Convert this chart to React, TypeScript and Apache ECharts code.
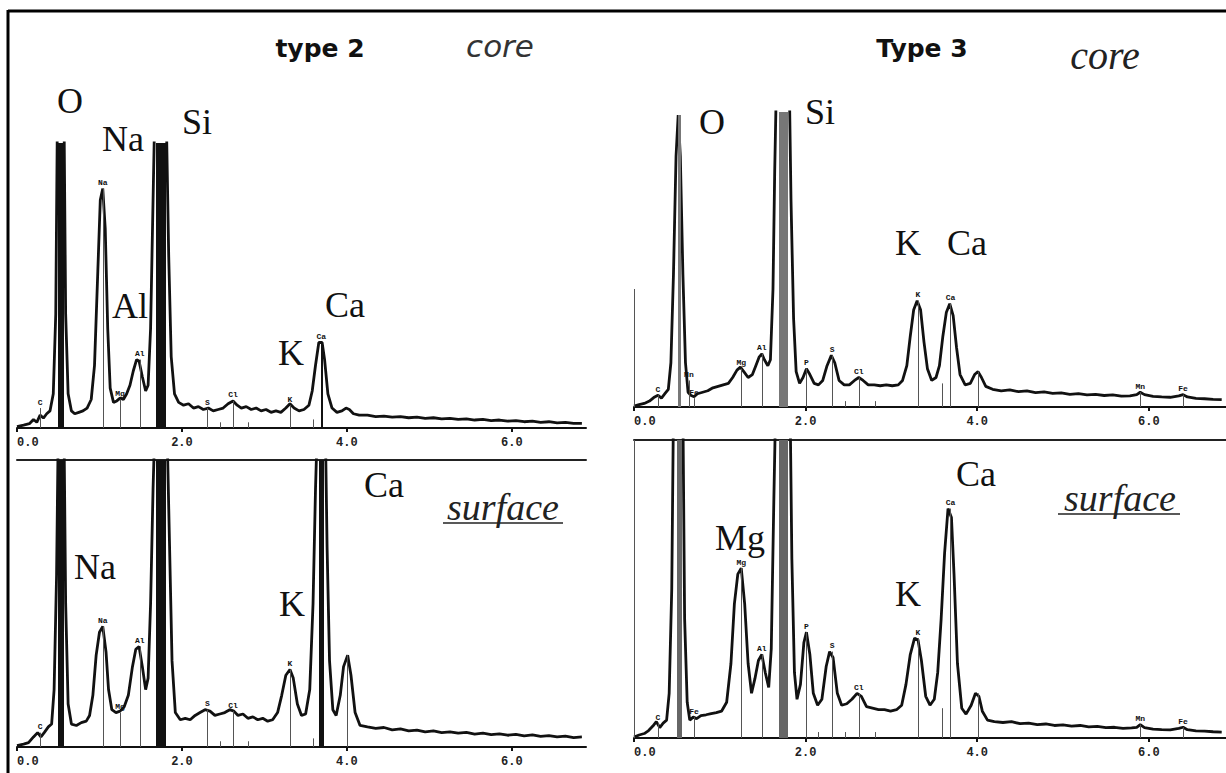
import React, { useEffect, useRef } from "react";
import * as echarts from "echarts";

// ---------- data: energy (keV) , counts (arbitrary, 100 = top of panel) ----------
const type2Core: number[][] = [
  [0.00, 0.5], [0.08, 1], [0.15, 1.5], [0.20, 3], [0.24, 2], [0.28, 4.5], [0.32, 3.5], [0.36, 5], [0.40, 6], [0.44, 12],
  [0.47, 40], [0.49, 110], [0.57, 110], [0.59, 40], [0.62, 12], [0.66, 6], [0.70, 5], [0.75, 5.5], [0.80, 6], [0.85, 7],
  [0.90, 10], [0.94, 22], [0.98, 55], [1.01, 80], [1.04, 84], [1.07, 70], [1.10, 35], [1.13, 14], [1.17, 9], [1.21, 9.5],
  [1.25, 10.5], [1.29, 10], [1.33, 12], [1.37, 15], [1.41, 20], [1.45, 24], [1.48, 23.5], [1.52, 18], [1.56, 13], [1.59, 15],
  [1.62, 35], [1.65, 80], [1.67, 110], [1.81, 110], [1.84, 60], [1.87, 25], [1.91, 12], [1.96, 9], [2.02, 8], [2.08, 8.5],
  [2.14, 7], [2.20, 7.5], [2.26, 6.5], [2.32, 7], [2.38, 6], [2.44, 6.5], [2.50, 7], [2.56, 8.5], [2.62, 9.5], [2.67, 8],
  [2.72, 7], [2.78, 7.5], [2.84, 6.5], [2.90, 7], [2.96, 6], [3.02, 6.5], [3.08, 5.5], [3.14, 6], [3.20, 5.5], [3.26, 7],
  [3.31, 8.5], [3.36, 7], [3.42, 6], [3.48, 6.5], [3.54, 8], [3.58, 13], [3.62, 22], [3.66, 30], [3.70, 30], [3.73, 24],
  [3.77, 12], [3.82, 7], [3.88, 5.5], [3.94, 6], [3.99, 7], [4.03, 6.5], [4.08, 5], [4.15, 4.5], [4.25, 4.5], [4.35, 4],
  [4.45, 4.2], [4.55, 3.8], [4.65, 4], [4.75, 3.6], [4.85, 3.8], [4.95, 3.4], [5.05, 3.6], [5.15, 3.2], [5.25, 3.4], [5.35, 3.0],
  [5.45, 3.2], [5.55, 2.8], [5.65, 3.0], [5.75, 2.6], [5.85, 2.8], [5.95, 2.4], [6.05, 2.6], [6.15, 2.2], [6.25, 2.4], [6.35, 2.0],
  [6.45, 2.2], [6.55, 1.8], [6.65, 2.0], [6.75, 1.6], [6.85, 1.6],
];

const type2Surface: number[][] = [
  [0.00, 0.5], [0.08, 1], [0.14, 1.5], [0.20, 3.5], [0.25, 5], [0.29, 3.5], [0.33, 5], [0.38, 7], [0.42, 8], [0.45, 20],
  [0.48, 60], [0.50, 110], [0.57, 110], [0.59, 50], [0.62, 15], [0.66, 8], [0.72, 7.5], [0.78, 8.5], [0.84, 9], [0.88, 11],
  [0.92, 18], [0.96, 32], [1.00, 40], [1.04, 42], [1.08, 33], [1.11, 20], [1.15, 13], [1.20, 12], [1.25, 12.5], [1.30, 14],
  [1.35, 18], [1.40, 28], [1.44, 34], [1.48, 35], [1.52, 28], [1.56, 20], [1.59, 24], [1.62, 50], [1.65, 90], [1.67, 110],
  [1.82, 110], [1.85, 70], [1.88, 30], [1.92, 12], [1.98, 9.5], [2.04, 10], [2.10, 9.5], [2.16, 11], [2.22, 12], [2.28, 13],
  [2.34, 12.5], [2.40, 11], [2.46, 11.5], [2.52, 12], [2.58, 13], [2.63, 12.5], [2.68, 11], [2.74, 11.5], [2.80, 10], [2.86, 10.5],
  [2.92, 9.5], [2.98, 10], [3.04, 9], [3.10, 9.5], [3.16, 12], [3.21, 18], [3.26, 25], [3.31, 27], [3.35, 24], [3.40, 15],
  [3.45, 11], [3.50, 11.5], [3.55, 20], [3.59, 50], [3.62, 90], [3.64, 110], [3.74, 110], [3.76, 70], [3.79, 30], [3.83, 13],
  [3.87, 11], [3.92, 18], [3.96, 28], [4.01, 32], [4.05, 25], [4.10, 12], [4.16, 7.5], [4.25, 7], [4.35, 6.5], [4.45, 6.8],
  [4.55, 6], [4.65, 6.3], [4.75, 5.6], [4.85, 5.9], [4.95, 5.3], [5.05, 5.6], [5.15, 5], [5.25, 5.3], [5.35, 4.8], [5.45, 5.1],
  [5.55, 4.5], [5.65, 4.8], [5.75, 4.3], [5.85, 4.6], [5.95, 4.1], [6.05, 4.4], [6.15, 3.9], [6.25, 4.2], [6.35, 3.7], [6.45, 4.0],
  [6.55, 3.5], [6.65, 3.8], [6.75, 3.3], [6.85, 3.5],
];

const type3Core: number[][] = [
  [0.00, 0.3], [0.06, 0.8], [0.12, 1.2], [0.18, 2], [0.23, 3.2], [0.28, 4], [0.32, 3], [0.36, 4.5], [0.40, 6], [0.43, 15],
  [0.46, 45], [0.49, 85], [0.515, 99], [0.54, 85], [0.57, 45], [0.60, 15], [0.63, 5], [0.66, 4], [0.70, 3.5], [0.74, 4.5],
  [0.80, 5], [0.86, 5.5], [0.92, 6.5], [0.98, 7], [1.04, 7.5], [1.10, 8], [1.15, 10], [1.20, 12.5], [1.24, 13.5], [1.28, 12],
  [1.33, 10], [1.38, 11], [1.42, 14], [1.46, 17], [1.49, 18], [1.52, 16], [1.56, 14], [1.59, 16], [1.62, 40], [1.64, 80],
  [1.66, 110], [1.81, 110], [1.83, 70], [1.86, 30], [1.89, 12], [1.93, 8], [1.97, 10], [2.01, 13], [2.05, 11], [2.10, 8],
  [2.15, 7.5], [2.20, 9], [2.25, 14], [2.30, 17.5], [2.34, 15], [2.39, 9], [2.45, 7.5], [2.51, 7.5], [2.57, 9], [2.62, 10],
  [2.67, 9], [2.73, 7.5], [2.80, 7.5], [2.87, 7.2], [2.94, 7.5], [3.01, 7.2], [3.08, 7.5], [3.13, 9], [3.18, 14], [3.22, 24],
  [3.26, 33], [3.30, 36], [3.34, 33], [3.38, 22], [3.42, 13], [3.47, 9], [3.52, 10], [3.56, 14], [3.60, 24], [3.64, 32],
  [3.68, 35], [3.72, 31], [3.76, 20], [3.80, 11], [3.86, 7.5], [3.92, 8], [3.97, 11], [4.01, 12], [4.05, 10], [4.10, 7],
  [4.18, 6], [4.28, 5.5], [4.38, 5.8], [4.48, 5.2], [4.58, 5.5], [4.68, 4.9], [4.78, 5.1], [4.88, 4.6], [4.98, 4.8], [5.08, 4.3],
  [5.18, 4.5], [5.28, 4.1], [5.38, 4.3], [5.48, 3.9], [5.58, 4.1], [5.68, 3.7], [5.78, 3.8], [5.86, 4.2], [5.90, 5], [5.95, 4.2],
  [6.05, 3.6], [6.15, 3.4], [6.25, 3.3], [6.35, 3.8], [6.40, 4.2], [6.45, 3.4], [6.55, 2.9], [6.65, 2.8], [6.75, 2.6], [6.85, 2.5],
];

const type3Surface: number[][] = [
  [0.00, 0.3], [0.06, 1], [0.12, 1.5], [0.17, 2.5], [0.22, 4], [0.26, 5.5], [0.30, 3.5], [0.34, 5], [0.38, 6], [0.41, 15],
  [0.44, 50], [0.46, 110], [0.57, 110], [0.59, 40], [0.62, 12], [0.65, 6], [0.69, 7], [0.73, 6.5], [0.78, 7.5], [0.84, 7.8],
  [0.90, 8.2], [0.96, 8.5], [1.02, 9], [1.08, 12], [1.13, 25], [1.17, 45], [1.21, 55], [1.25, 57], [1.29, 45], [1.33, 25],
  [1.37, 15], [1.41, 20], [1.45, 26], [1.49, 28], [1.53, 22], [1.57, 17], [1.60, 30], [1.63, 80], [1.65, 110], [1.82, 110],
  [1.84, 60], [1.87, 22], [1.90, 13], [1.94, 18], [1.98, 32], [2.01, 35.5], [2.05, 28], [2.09, 15], [2.14, 11], [2.19, 13],
  [2.24, 24], [2.28, 29], [2.32, 27], [2.37, 15], [2.42, 11], [2.48, 11.5], [2.54, 13], [2.60, 15], [2.65, 14], [2.71, 10.5],
  [2.78, 10], [2.85, 9.5], [2.92, 9.5], [2.99, 9], [3.06, 9.5], [3.12, 11], [3.17, 18], [3.22, 28], [3.27, 33.5], [3.31, 33],
  [3.35, 26], [3.40, 14], [3.45, 11], [3.50, 13], [3.54, 22], [3.58, 40], [3.62, 62], [3.66, 77], [3.70, 74], [3.73, 55],
  [3.77, 25], [3.82, 10], [3.87, 8], [3.93, 11], [3.98, 15], [4.02, 14], [4.06, 9], [4.12, 6], [4.20, 5.5], [4.30, 5.2],
  [4.40, 5.5], [4.50, 4.8], [4.60, 5], [4.70, 4.5], [4.80, 4.7], [4.90, 4.2], [5.00, 4.4], [5.10, 4], [5.20, 4.2], [5.30, 3.7],
  [5.40, 3.9], [5.50, 3.5], [5.60, 3.6], [5.70, 3.2], [5.80, 3.4], [5.86, 3.6], [5.90, 4.5], [5.95, 3.5], [6.05, 3], [6.15, 2.8],
  [6.25, 2.7], [6.35, 3.2], [6.40, 3.6], [6.45, 2.8], [6.55, 2.4], [6.65, 2.3], [6.75, 2.1], [6.85, 2],
];

// element marker lines: [energy keV, height, small label, drawn width]
type Marker = [number, number, string, number?];
const type2CoreMarkers: Marker[] = [
  [0.28, 7, "C"], [0.525, 100, "", 6], [1.04, 84, "Na"], [1.25, 10, "Mg"], [1.49, 24, "Al"], [1.74, 100, "", 10],
  [2.31, 7, "S"], [2.46, 2, ""], [2.62, 9.5, "Cl"], [2.81, 2, ""], [3.31, 8, "K"], [3.59, 3, ""], [3.69, 30, "Ca", 2],
];
const type2SurfaceMarkers: Marker[] = [
  [0.28, 5, "C"], [0.525, 100, "", 6], [1.04, 42, "Na"], [1.25, 12, "Mg"], [1.49, 35, "Al"], [1.74, 100, "", 10],
  [2.31, 13, "S"], [2.46, 2, ""], [2.62, 12.5, "Cl"], [2.81, 2, ""], [3.31, 27, "K"], [3.59, 3, ""], [3.69, 100, "", 5], [4.01, 32, ""],
];
const type3CoreMarkers: Marker[] = [
  [0.0, 40, ""], [0.28, 4, "C"], [0.525, 99, "", 3], [0.64, 9, "Mn"], [0.70, 3, "Fe"], [1.25, 13, "Mg"], [1.49, 18, "Al"],
  [1.74, 100, "", 9], [2.01, 13, "P"], [2.31, 17.5, "S"], [2.46, 2, ""], [2.62, 10, "Cl"], [2.81, 2, ""], [3.31, 36, "K"],
  [3.59, 8, ""], [3.69, 35, "Ca"], [4.01, 12, ""], [5.90, 5, "Mn"], [6.40, 4.2, "Fe"],
];
const type3SurfaceMarkers: Marker[] = [
  [0.0, 100, ""], [0.28, 5, "C"], [0.525, 100, "", 5], [0.70, 7, "Fe"], [1.25, 57, "Mg"], [1.49, 28, "Al"], [1.74, 100, "", 9],
  [2.01, 35.5, "P"], [2.15, 2, ""], [2.31, 29, "S"], [2.46, 2, ""], [2.62, 15, "Cl"], [2.81, 2, ""], [3.31, 33.5, "K"],
  [3.59, 10, ""], [3.69, 77, "Ca"], [4.01, 15, ""], [5.90, 4.5, "Mn"], [6.40, 3.6, "Fe"],
];

const xTicks = ["0.0", "2.0", "4.0", "6.0"];
const X_MAX = 6.9;

// ---------- layout ----------
const grids = [
  { left: 17, top: 143, width: 569, height: 285 },  // type 2 core
  { left: 17, top: 460, width: 569, height: 287 },  // type 2 surface
  { left: 634, top: 112, width: 593, height: 295 }, // type 3 core
  { left: 634, top: 440, width: 593, height: 298 }, // type 3 surface
];
const barColors = ["#111", "#111", "#777", "#666"];

const spectra = [type2Core, type2Surface, type3Core, type3Surface];
const markers = [type2CoreMarkers, type2SurfaceMarkers, type3CoreMarkers, type3SurfaceMarkers];

const serif = "Liberation Serif";
const bigLabels: [string, number, number][] = [
  ["O", 70, 101], ["Na", 123, 139], ["Si", 197, 122], ["Al", 130, 306], ["K", 291, 353], ["Ca", 345, 305],
  ["Ca", 384, 485], ["Na", 95, 567], ["K", 292, 604],
  ["O", 712, 122], ["Si", 820, 112], ["K", 908, 243], ["Ca", 967, 243],
  ["Ca", 976, 474], ["Mg", 740, 538], ["K", 908, 594],
];

export default function App() {
  const ref = useRef<HTMLDivElement>(null);
  useEffect(() => {
    if (!ref.current) return;
    const chart = echarts.init(ref.current, undefined, { renderer: "svg" });

    const xAxes: any[] = grids.map((_, i) => ({
      gridIndex: i,
      type: "value",
      min: 0,
      max: X_MAX,
      interval: 2,
      axisLine: { show: true, onZero: false, lineStyle: { color: "#111", width: 2 } },
      axisTick: { show: true, length: 4, lineStyle: { color: "#111", width: 2 } },
      axisLabel: {
        formatter: (v: number) => xTicks[Math.round(v / 2)] ?? "",
        fontFamily: "Liberation Mono",
        fontWeight: "bold",
        fontSize: 12,
        color: "#222",
        margin: 9,
        showMaxLabel: false,
        alignMinLabel: "left",
      },
      splitLine: { show: false },
    }));
    // top frame lines of the lower panels
    [1, 3].forEach((gi) =>
      xAxes.push({
        gridIndex: gi,
        type: "value",
        position: "top",
        min: 0,
        max: X_MAX,
        axisLine: { show: true, onZero: false, lineStyle: { color: "#222", width: 2 } },
        axisTick: { show: false },
        axisLabel: { show: false },
        splitLine: { show: false },
      })
    );

    const yAxes = grids.map((_, i) => ({ gridIndex: i, type: "value", min: 0, max: 100, show: false }));

    const series: any[] = spectra.map((data, i) => ({
      type: "line",
      xAxisIndex: i,
      yAxisIndex: i,
      data,
      symbol: "none",
      showSymbol: false,
      clip: true,
      lineStyle: { color: "#111", width: 2.8 },
      z: 3,
      markLine: {
        silent: true,
        symbol: "none",
        animation: false,
        lineStyle: { color: "#555", width: 1, type: "solid" },
        label: {
          show: true,
          position: "end",
          formatter: "{b}",
          fontFamily: "Liberation Mono",
          fontWeight: "bold",
          fontSize: 8,
          color: "#111",
          distance: 2,
        },
        data: markers[i].map(([e, h, lab, w]) => [
          w
            ? { coord: [e, 0], name: lab, lineStyle: { width: w, color: barColors[i], type: "solid" } }
            : { coord: [e, 0], name: lab },
          { coord: [e, h] },
        ]),
      },
    }));

    const graphic: any[] = [
      { type: "line", shape: { x1: 8, y1: 11, x2: 1226, y2: 11 }, style: { stroke: "#000", lineWidth: 3 } },
      { type: "line", shape: { x1: 8, y1: 10, x2: 8, y2: 773 }, style: { stroke: "#000", lineWidth: 3 } },
      { type: "text", x: 320, y: 48, style: { text: "type 2", font: "bold 25px 'DejaVu Sans'", fill: "#111", align: "center", verticalAlign: "middle" } },
      { type: "text", x: 500, y: 46, style: { text: "core", font: "italic 31px 'DejaVu Sans'", fill: "#333", align: "center", verticalAlign: "middle" } },
      { type: "text", x: 922, y: 48, style: { text: "Type 3", font: "bold 25px 'DejaVu Sans'", fill: "#111", align: "center", verticalAlign: "middle" } },
      { type: "text", x: 1105, y: 55, style: { text: "core", font: `italic 40px '${serif}'`, fill: "#222", align: "center", verticalAlign: "middle" } },
      { type: "text", x: 503, y: 507, style: { text: "surface", font: `italic 38px '${serif}'`, fill: "#222", align: "center", verticalAlign: "middle" } },
      { type: "line", shape: { x1: 443, y1: 523, x2: 563, y2: 523 }, style: { stroke: "#222", lineWidth: 1.5 } },
      { type: "text", x: 1120, y: 498, style: { text: "surface", font: `italic 38px '${serif}'`, fill: "#222", align: "center", verticalAlign: "middle" } },
      { type: "line", shape: { x1: 1058, y1: 514, x2: 1180, y2: 514 }, style: { stroke: "#222", lineWidth: 1.5 } },
      ...bigLabels.map(([t, x, y]) => ({
        type: "text",
        x,
        y,
        style: { text: t, font: `36px '${serif}'`, fill: "#111", align: "center", verticalAlign: "middle" },
      })),
    ];

    chart.setOption({
      animation: false,
      backgroundColor: "#fff",
      grid: grids.map((g) => ({ ...g, containLabel: false })),
      xAxis: xAxes,
      yAxis: yAxes,
      series,
      graphic,
    });
    return () => chart.dispose();
  }, []);
  return (
    <div
      ref={ref}
      style={{ position: "fixed", left: 0, top: 0, width: 1226, height: 773, background: "#fff" }}
    />
  );
}
